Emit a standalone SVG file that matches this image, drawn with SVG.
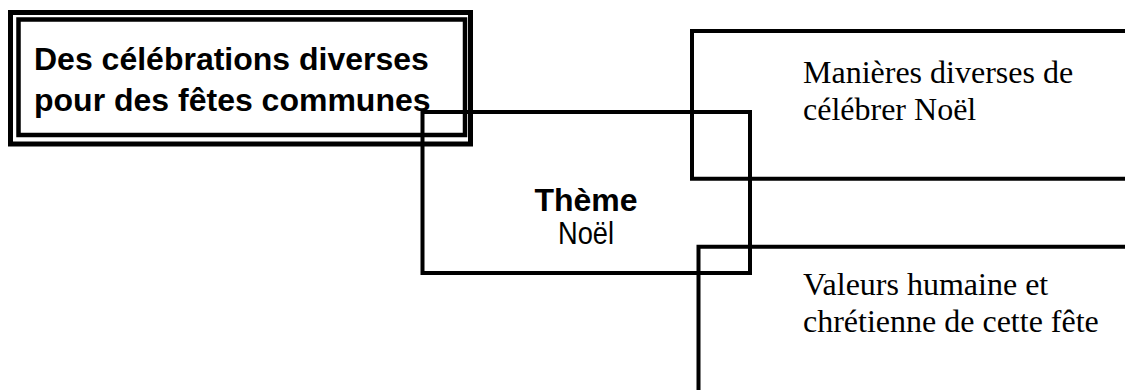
<svg xmlns="http://www.w3.org/2000/svg" width="1125" height="390" viewBox="0 0 1125 390">
  <style>
    .box { fill: none; stroke: #000; stroke-width: 4; }
    .title { font-family: "Liberation Sans", Arial, sans-serif; font-weight: bold; font-size: 32px; fill: #000; }
    .sans { font-family: "Liberation Sans", Arial, sans-serif; font-size: 32px; fill: #000; }
    .serif { font-family: "Liberation Serif", "Times New Roman", serif; font-size: 32px; fill: #000; }
  </style>
  <rect width="1125" height="390" fill="#fff"/>
  <g id="title">
    <rect x="10.5" y="12.5" width="460" height="131.5" fill="none" stroke="#000" stroke-width="5"/>
    <rect x="18.5" y="19.5" width="446.5" height="115.5" fill="none" stroke="#000" stroke-width="4.5"/>
    <text class="title" x="34" y="70">Des célébrations diverses</text>
    <text class="title" x="34" y="111">pour des fêtes communes</text>
  </g>
  <g id="maniere">
    <path class="box" d="M1125,31 H692 V178.7 H1125"/>
    <text class="serif" x="803" y="83">Manières diverses de</text>
    <text class="serif" x="803" y="120">célébrer Noël</text>
  </g>
  <g id="valeurs">
    <path class="box" d="M1125,246.7 H698.5 V390"/>
    <text class="serif" x="803" y="295">Valeurs humaine et</text>
    <text class="serif" x="803" y="332">chrétienne de cette fête</text>
  </g>
  <g id="theme">
    <rect class="box" x="422.5" y="112" width="327.5" height="161"/>
    <text class="title" x="586" y="211" text-anchor="middle">Thème</text>
    <text class="sans" x="586" y="244" text-anchor="middle" textLength="56" lengthAdjust="spacingAndGlyphs">Noël</text>
  </g>
  <g id="connectors"/>
</svg>
